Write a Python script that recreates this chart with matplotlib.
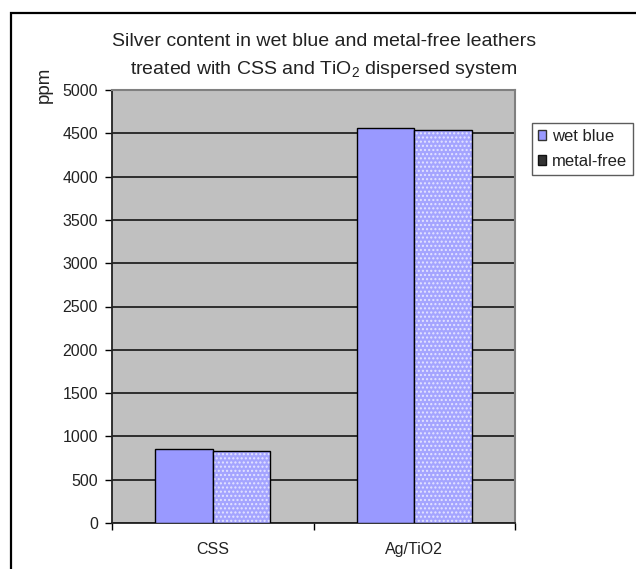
import matplotlib
matplotlib.use("Agg")
import matplotlib.pyplot as plt
import numpy as np
from matplotlib.patches import Patch, Rectangle

plt.rcParams["font.family"] = ["Liberation Sans", "DejaVu Sans"]
plt.rcParams["hatch.linewidth"] = 1.0

categories = ["CSS", "Ag/TiO2"]
series = ["wet blue", "metal-free"]
wet_blue = [860, 4560]
metal_free = [830, 4540]
yticks = [0, 500, 1000, 1500, 2000, 2500, 3000, 3500, 4000, 4500, 5000]

W, H = 636, 569
fig = plt.figure(figsize=(W / 100, H / 100), dpi=100)
fig.patch.set_facecolor("white")

# chart frame (only top and left edges fall inside the image)
fig.patches.append(Rectangle((11 / W, -0.1), 1.2, 1.1 - 13 / H,
                             transform=fig.transFigure, fill=False,
                             edgecolor="black", lw=1.6))

ax = fig.add_axes([112 / W, 1 - 523 / H, (515 - 112) / W, (523 - 90) / H])
ax.set_facecolor("#c0c0c0")

x = np.arange(len(categories))
w = 1 / 3.5
ax.bar(x - w / 2, wet_blue, w, color="#9999ff", edgecolor="black", lw=1.0,
       zorder=3)
# dotted fill for the second series, then its outline on top
ax.bar(x + w / 2, metal_free, w, color="#a4a4ff", edgecolor="#e4e4ff",
       hatch="....", lw=0, zorder=3)
ax.bar(x + w / 2, metal_free, w, fill=False, edgecolor="black", lw=1.0,
       zorder=4)

ax.set_xlim(-0.5, 1.5)
ax.set_ylim(0, 5000)
ax.set_yticks(yticks)
ax.tick_params(axis="y", length=5, width=1, pad=5, labelsize=11.5,
               labelcolor="#222222")
ax.set_xticks(x)
ax.set_xticklabels(categories)
ax.set_xticks([-0.5, 0.5, 1.5], minor=True)
ax.tick_params(axis="x", which="major", length=0, pad=14, labelsize=11.5,
               labelcolor="#222222")
ax.tick_params(axis="x", which="minor", length=5, width=1)

ax.set_axisbelow(True)
ax.yaxis.grid(True, color="#222222", lw=1.3)
for side in ("top", "right"):
    ax.spines[side].set_color("#808080")
    ax.spines[side].set_linewidth(1.5)
for side in ("left", "bottom"):
    ax.spines[side].set_color("#222222")
    ax.spines[side].set_linewidth(1.3)

fig.text(44 / W, 1 - 85 / H, "ppm", rotation=90, ha="center", va="center",
         fontsize=13.5, color="#222222")

fig.text(324 / W, 1 - 46 / H,
         "Silver content in wet blue and metal-free leathers",
         ha="center", va="baseline", fontsize=14, color="#222222")
fig.text(324 / W, 1 - 74 / H,
         r"treated with CSS and TiO$\mathregular{_2}$ dispersed system",
         ha="center", va="baseline", fontsize=14, color="#222222")

handles = [Patch(facecolor="#9999ff", edgecolor="#333333", lw=1.0),
           Patch(facecolor="#333333", edgecolor="#111111", lw=1.0)]
leg = fig.legend(handles, series, loc="upper left",
                 bbox_to_anchor=(532 / W, 1 - 123 / H),
                 bbox_transform=fig.transFigure, borderaxespad=0,
                 fontsize=12, handlelength=0.5, handleheight=0.5,
                 handletextpad=0.35, borderpad=0.35, labelspacing=0.6,
                 fancybox=False, frameon=True)
leg.get_frame().set_edgecolor("#333333")
leg.get_frame().set_linewidth(1.0)
for t in leg.get_texts():
    t.set_color("#222222")

fig.savefig("out.png", dpi=100)
